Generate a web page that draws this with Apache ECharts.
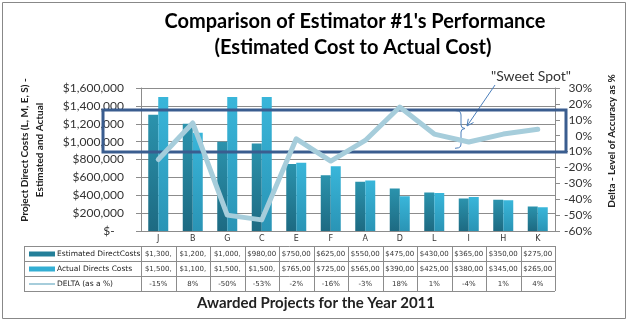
<!DOCTYPE html>
<html><head><meta charset="utf-8">
<script src="https://cdn.jsdelivr.net/npm/echarts@6/dist/echarts.min.js"></script>
<style>html,body{margin:0;padding:0;background:#fff}#c{width:630px;height:329px}</style>
</head><body><div id="c"></div>
<script>
const categories = ['J','B','G','C','E','F','A','D','L','I','H','K'];
const estimated = [1300000,1200000,1000000,980000,750000,625000,550000,475000,430000,365000,350000,275000];
const actual = [1500000,1100000,1500000,1500000,765000,725000,565000,390000,425000,380000,345000,265000];
const delta = [-15,8,-50,-53,-2,-16,-3,18,1,-4,1,4];
const seriesNames = ['Estimated DirectCosts','Actual Directs Costs','DELTA (as a %)'];
const titleLines = ["Comparison of Estimator #1's Performance","(Estimated Cost to Actual Cost)"];

const C_EST = '#237f99', C_ACT = '#33aed3', C_DEL = '#a6cddb';
const fmtMoney = v => '$' + v.toLocaleString('en-US');
const chart = echarts.init(document.getElementById('c'));
const FONT = 'Lato';
const opt = {
  animation:false,
  backgroundColor:'#fff',
  grid:{left:141,right:75,top:88,bottom:98},
  xAxis:{type:'category',data:categories,
    axisLine:{lineStyle:{color:'#8c8c8c'}},
    axisTick:{length:15,lineStyle:{color:'#8c8c8c'}},
    axisLabel:{margin:4,fontSize:8,fontFamily:'DejaVu Sans',color:'#333'}},
  yAxis:[
    {type:'value',min:0,max:1600000,interval:200000,
     axisLine:{show:true,lineStyle:{color:'#8c8c8c'}},
     axisTick:{show:true,length:5,lineStyle:{color:'#8c8c8c'}},
     splitLine:{lineStyle:{color:'#8c8c8c'}},
     axisLabel:{margin:17,fontSize:12,fontFamily:FONT,color:'#333',
       formatter:v=> v===0 ? '$-   ' : fmtMoney(v)}},
    {type:'value',min:-60,max:30,interval:10,position:'right',
     axisLine:{show:true,lineStyle:{color:'#8c8c8c'}},
     axisTick:{show:true,length:5,lineStyle:{color:'#8c8c8c'}},
     splitLine:{show:false},
     axisLabel:{margin:37,align:'right',fontSize:12,fontFamily:FONT,color:'#333',formatter:v=>v+'%'}}
  ],
  series:[
    {name:seriesNames[0],type:'bar',data:estimated,barWidth:10,barGap:'0%',
     itemStyle:{color:{type:'linear',x:0,y:0,x2:0,y2:1,colorStops:[{offset:0,color:'#2b93ad'},{offset:1,color:'#1d6a82'}]},
       shadowColor:'rgba(0,0,0,0.25)',shadowBlur:2,shadowOffsetX:1}},
    {name:seriesNames[1],type:'bar',data:actual,barWidth:10,
     itemStyle:{color:{type:'linear',x:0,y:0,x2:0,y2:1,colorStops:[{offset:0,color:'#39b6da'},{offset:1,color:'#2a94b5'}]},
       shadowColor:'rgba(0,0,0,0.25)',shadowBlur:2,shadowOffsetX:1}},
    {name:seriesNames[2],type:'line',yAxisIndex:1,data:delta,symbol:'none',z:5,
     lineStyle:{color:C_DEL,width:5,cap:'round',join:'round'}}
  ]
};
chart.setOption(opt);

// build data table & annotations
const cx = categories.map((c,i)=>chart.convertToPixel({xAxisIndex:0},i));
const cw = cx[1]-cx[0];
const xL = cx[0]-cw/2, xR = cx[cx.length-1]+cw/2;
const yTop = chart.convertToPixel({yAxisIndex:0},0);
const rowH = 15;
const rows = [yTop, yTop+rowH, yTop+2*rowH, yTop+3*rowH, yTop+4*rowH];
const tL = 24;
const g = [];
const lc = '#8c8c8c';
for (let r=1;r<rows.length;r++) g.push({type:'line',shape:{x1:tL,y1:rows[r]+0.5,x2:xR,y2:rows[r]+0.5},style:{stroke:lc,lineWidth:1}});
g.push({type:'line',shape:{x1:tL+0.5,y1:rows[1],x2:tL+0.5,y2:rows[4]},style:{stroke:lc,lineWidth:1}});
for (let i=0;i<=categories.length;i++){
  const x = Math.round(xL+i*cw)+0.5;
  g.push({type:'line',shape:{x1:x,y1:rows[1],x2:x,y2:rows[4]},style:{stroke:lc,lineWidth:1}});
}
const rowVals = [estimated.map(v=>fmtMoney(v).slice(0,7)), actual.map(v=>fmtMoney(v).slice(0,7)), delta.map(v=>v+'%')];
rowVals.forEach((vals,r)=>{
  const yc = (rows[r+1]+rows[r+2])/2+0.5;
  vals.forEach((t,i)=>g.push({type:'text',x:cx[i],y:yc,style:{text:t,fontSize:7,fontFamily:'DejaVu Sans',fill:'#333',align:'center',verticalAlign:'middle'}}));
  g.push({type:'text',x:57,y:yc,style:{text:seriesNames[r],fontSize:7.5,fontFamily:'DejaVu Sans',fill:'#222',align:'left',verticalAlign:'middle'}});
});
g.push({type:'rect',shape:{x:29,y:(rows[1]+rows[2])/2-2,width:26,height:5},style:{fill:C_EST}});
g.push({type:'rect',shape:{x:29,y:(rows[2]+rows[3])/2-2,width:26,height:5},style:{fill:C_ACT}});
g.push({type:'rect',shape:{x:29,y:(rows[3]+rows[4])/2-0.5,width:26,height:2},style:{fill:C_DEL}});

// titles
g.push({type:'text',x:355,y:22,style:{text:titleLines[0],fontSize:20,fontWeight:'bold',fontFamily:FONT,fill:'#000',align:'center',verticalAlign:'middle'}});
g.push({type:'text',x:353,y:48,style:{text:titleLines[1],fontSize:20,fontWeight:'bold',fontFamily:FONT,fill:'#000',align:'center',verticalAlign:'middle'}});
g.push({type:'text',x:316,y:303,style:{text:'Awarded Projects for the Year 2011',fontSize:15,fontWeight:'bold',fontFamily:FONT,fill:'#222',align:'center',verticalAlign:'middle'}});
g.push({type:'text',x:25,y:150,rotation:Math.PI/2,style:{text:'Project Direct Costs (L, M, E, S) -',fontSize:10,fontWeight:'bold',fontFamily:FONT,fill:'#222',align:'center',verticalAlign:'middle'}});
g.push({type:'text',x:40,y:150,rotation:Math.PI/2,style:{text:'Estimated and Actual',fontSize:10,fontWeight:'bold',fontFamily:FONT,fill:'#222',align:'center',verticalAlign:'middle'}});
g.push({type:'text',x:612,y:141,rotation:Math.PI/2,style:{text:'Delta - Level of Accuracy as %',fontSize:10,fontWeight:'bold',fontFamily:FONT,fill:'#222',align:'center',verticalAlign:'middle'}});

// annotations
g.push({type:'rect',z:4,shape:{x:103,y:110,width:463,height:42},style:{fill:'none',stroke:'#3a5d8f',lineWidth:3}});
g.push({type:'text',x:531,y:76,style:{text:'"Sweet Spot"',fontSize:14,fontFamily:FONT,fill:'#333',align:'center',verticalAlign:'middle'}});
g.push({type:'line',shape:{x1:495,y1:85,x2:467,y2:126},style:{stroke:'#4a7ebb',lineWidth:1}});
g.push({type:'polyline',shape:{points:[[473.5,122.5],[467,126],[468.3,118.8]]},style:{stroke:'#4a7ebb',lineWidth:1,fill:'none'}});
g.push({type:'polyline',shape:{points:[[455,110.5],[458.5,111],[460.5,112.5],[461,115],[461,125],[462,127.5],[465,128.5],[462,129.5],[461,132],[461,144],[460.5,146.5],[458.5,147.8],[455,148.3]]},style:{stroke:'#4a7ebb',lineWidth:1,fill:'none'}});
// outer border
g.push({type:'rect',z:-1,shape:{x:2.5,y:2.5,width:623,height:316},style:{fill:'none',stroke:'#888',lineWidth:1}});
chart.setOption({graphic:g});
</script></body></html>
